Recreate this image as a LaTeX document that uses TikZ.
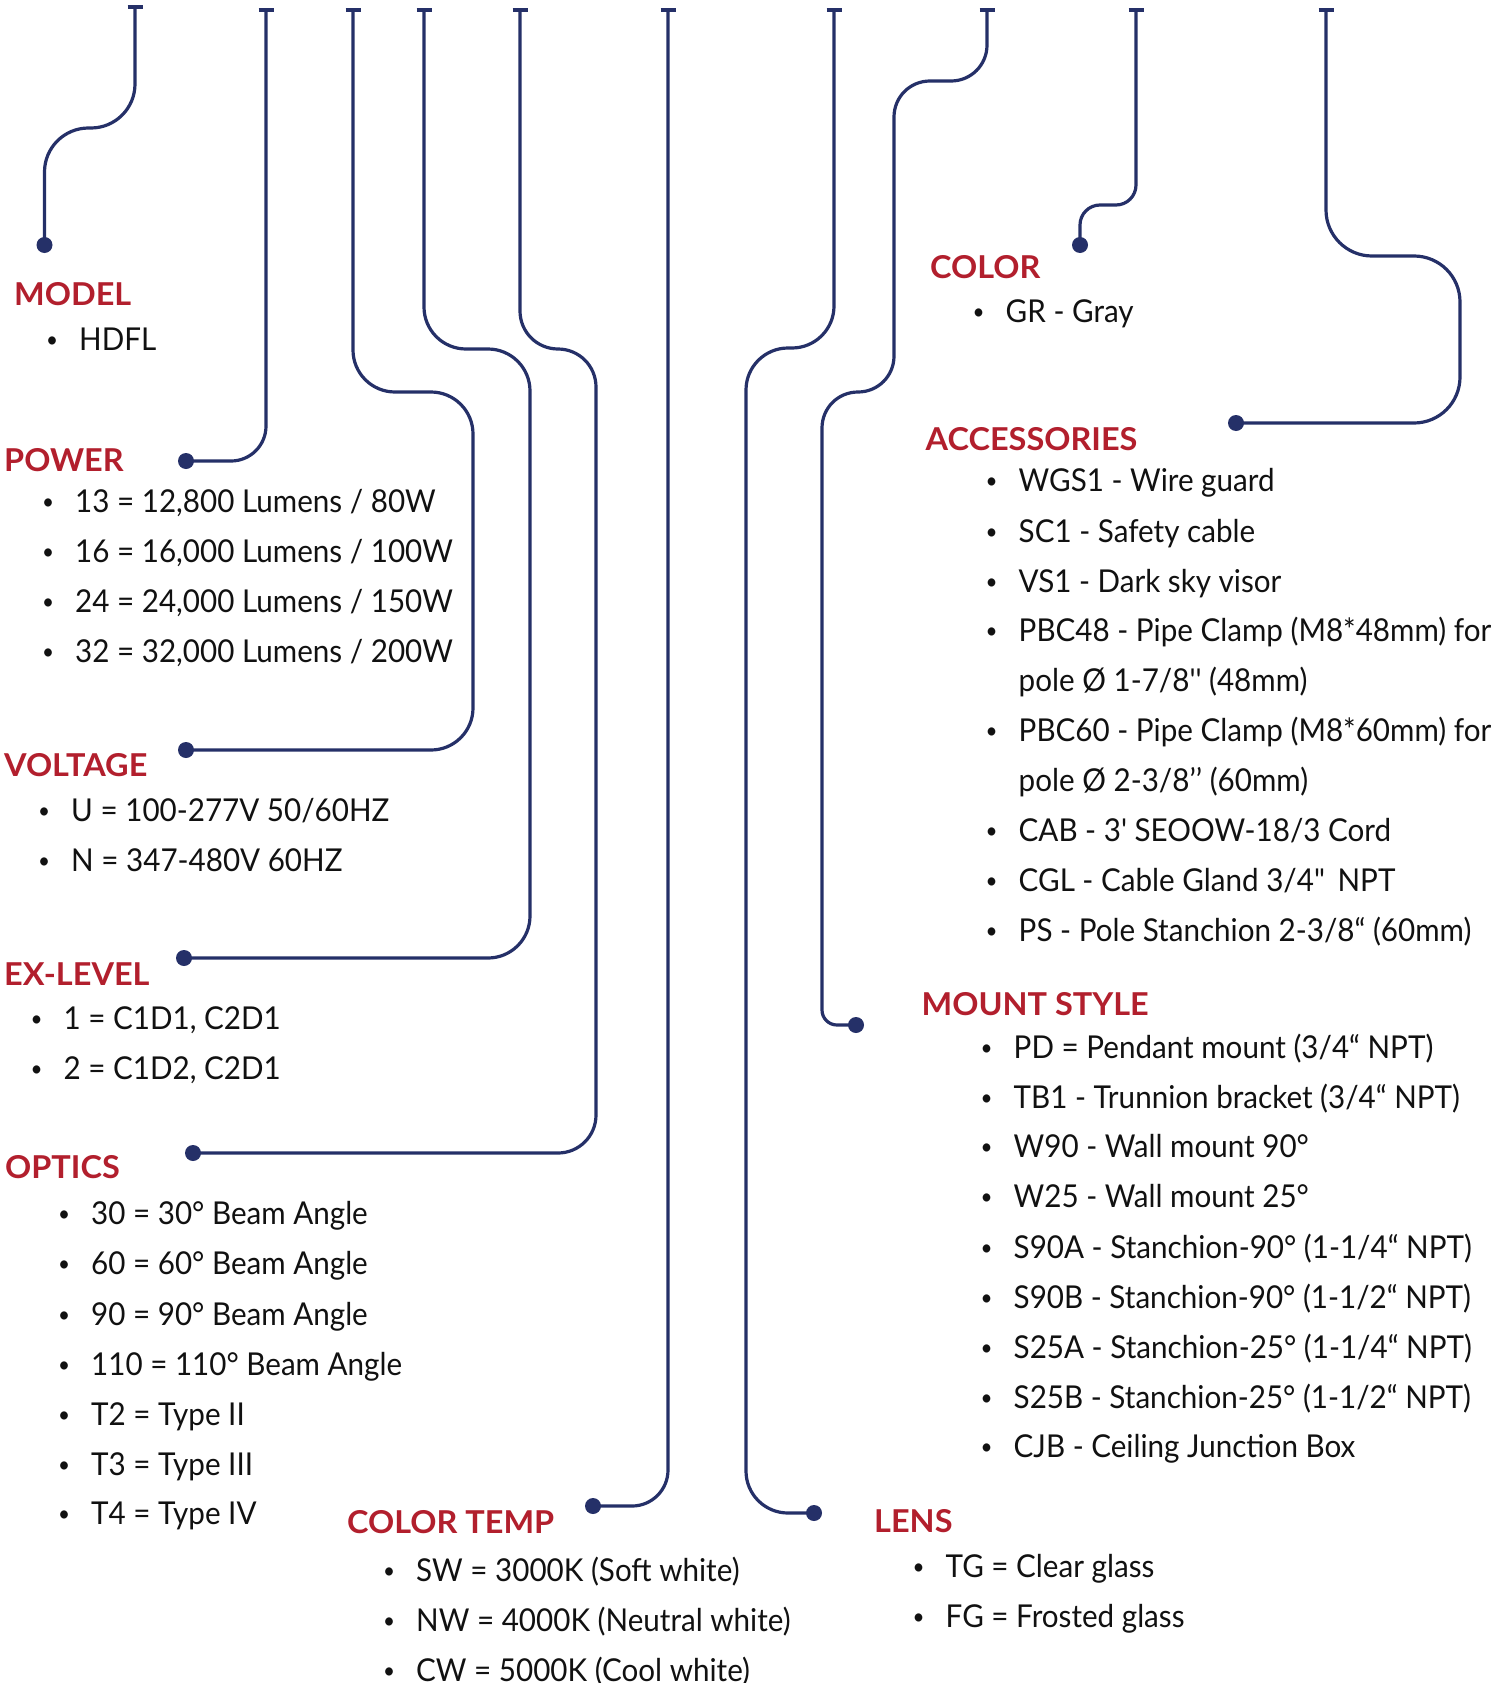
\documentclass[tikz,border=0pt]{standalone}
\usepackage{fontspec}
\newfontfamily\bodyfam{Lato}[Ligatures=TeXOff, FakeStretch=0.94]
\newfontfamily\headfam{Lato}[Ligatures=TeXOff, FakeStretch=1.03]
\definecolor{navy}{HTML}{253068}
\definecolor{headred}{HTML}{B21F2D}
\definecolor{ink}{HTML}{111111}
\newcommand\bfnt{\bodyfam\fontsize{31.5}{38}\selectfont}
\newcommand\hfnt{\headfam\bfseries\fontsize{31.5}{38}\selectfont}
\newcommand\bul{\llap{\makebox[54pt]{\raisebox{3pt}{\fontsize{22}{22}\selectfont •}}}}
\tikzset{
  conn/.style={draw=navy, line width=3.2pt},
  tickbar/.style={draw=navy, line width=4pt},
  enddot/.style={circle, fill=navy, inner sep=0pt, minimum size=16pt},
  head/.style={anchor=base west, inner sep=0pt, text=headred, font=\hfnt},
  itm/.style={anchor=base west, inner sep=0pt, text=ink, font=\bfnt},
}
\newcommand\bitem[3]{\node[itm] (#1) at (#2) {\bul #3};}
\newcommand\pitem[3]{\node[itm] (#1) at (#2) {#3};}
\begin{document}
\begin{tikzpicture}[x=1pt, y=-1pt]
\fill[white] (0,0) rectangle (1502,1683);
\useasboundingbox (0,0) rectangle (1502,1683);

% tick tops
\coordinate (t1) at (135,7);
\coordinate (t2) at (266,10);
\coordinate (t3) at (353,10);
\coordinate (t4) at (424,10);
\coordinate (t5) at (520,10);
\coordinate (t6) at (668,10);
\coordinate (t7) at (834,10);
\coordinate (t8) at (987,10);
\coordinate (t9) at (1136,10);
\coordinate (t10) at (1326,10);

% end dots
\node[enddot] (d1) at (44.5,245) {};
\node[enddot] (d2) at (186,461) {};
\node[enddot] (d3) at (186,750) {};
\node[enddot] (d4) at (184,958) {};
\node[enddot] (d5) at (193,1153) {};
\node[enddot] (d6) at (593,1506) {};
\node[enddot] (d7) at (814,1513) {};
\node[enddot] (d8) at (856,1025) {};
\node[enddot] (d9) at (1080,245) {};
\node[enddot] (d10) at (1236,423) {};

% connectors
\draw[conn, rounded corners=44pt] (t1) -- (135,128) -- (44.5,128) -- (d1.center);
\draw[conn, rounded corners=35pt] (t2) -- (266,461) -- (d2.center);
\draw[conn, rounded corners=42pt] (t3) -- (353,392) -- (473,392) -- (473,750) -- (d3.center);
\draw[conn, rounded corners=42pt] (t4) -- (424,349) -- (530,349) -- (530,958) -- (d4.center);
\draw[conn, rounded corners=38pt] (t5) -- (520,349) -- (596,349) -- (596,1153) -- (d5.center);
\draw[conn, rounded corners=36pt] (t6) -- (668,1506) -- (d6.center);
\draw[conn, rounded corners=42pt] (t7) -- (834,348) -- (746,348) -- (746,1513) -- (d7.center);
\draw[conn] (t8) -- (987,45) .. controls (987,65) and (971,81) .. (951,81)
  -- (930,81) .. controls (910,81) and (894,97) .. (894,117)
  -- (894,356) .. controls (894,376) and (878,392) .. (858,392)
  .. controls (838,392) and (822,408) .. (822,428)
  -- (822,1010) .. controls (822,1018.3) and (828.7,1025) .. (837,1025)
  -- (d8.center);
\draw[conn, rounded corners=20pt] (t9) -- (1136,205) -- (1080,205) -- (d9.center);
\draw[conn, rounded corners=46pt] (t10) -- (1326,256) -- (1460,256) -- (1460,423) -- (d10.center);

% tick bars
\foreach \t in {t1,t2,t3,t4,t5,t6,t7,t8,t9,t10}
  \draw[tickbar] ([xshift=-7.5pt]\t) -- ([xshift=7.5pt]\t);

% MODEL
\node[head] (hmodel) at (14,305) {MODEL};
\bitem{m1}{79,350}{HDFL}
% POWER
\node[head] (hpower) at (4,471) {POWER};
\bitem{p1}{75,512}{13 = 12,800 Lumens / 80W}
\bitem{p2}{75,562}{16 = 16,000 Lumens / 100W}
\bitem{p3}{75,612}{24 = 24,000 Lumens / 150W}
\bitem{p4}{75,662}{32 = 32,000 Lumens / 200W}
% VOLTAGE
\node[head] (hvolt) at (4,776) {VOLTAGE};
\bitem{v1}{71,821}{U = 100-277V 50/60HZ}
\bitem{v2}{71,871}{N = 347-480V 60HZ}
% EX-LEVEL
\node[head] (hex) at (4,985) {EX-LEVEL};
\bitem{e1}{63.5,1029.5}{1 = C1D1, C2D1}
\bitem{e2}{63.5,1079.5}{2 = C1D2, C2D1}
% OPTICS
\node[head] (hopt) at (5,1178) {OPTICS};
\bitem{o1}{91,1224.5}{30 = 30° Beam Angle}
\bitem{o2}{91,1274.7}{60 = 60° Beam Angle}
\bitem{o3}{91,1325}{90 = 90° Beam Angle}
\bitem{o4}{91,1375}{110 = 110° Beam Angle}
\bitem{o5}{91,1425}{T2 = Type II}
\bitem{o6}{91,1475.5}{T3 = Type III}
\bitem{o7}{91,1524}{T4 = Type IV}
% COLOR TEMP
\node[head] (hct) at (347,1533) {COLOR TEMP};
\bitem{c1}{416,1581}{SW = 3000K (Soft white)}
\bitem{c2}{416,1631.5}{NW = 4000K (Neutral white)}
\bitem{c3}{416,1681}{CW = 5000K (Cool white)}
% COLOR
\node[head] (hcol) at (930,278) {COLOR};
\bitem{g1}{1005.5,322}{GR - Gray}
% ACCESSORIES
\node[head] (hacc) at (925.5,450) {ACCESSORIES};
\bitem{a1}{1018.5,491.5}{WGS1 - Wire guard}
\bitem{a2}{1018.5,542}{SC1 - Safety cable}
\bitem{a3}{1018.5,592}{VS1 - Dark sky visor}
\bitem{a4}{1018.5,641}{PBC48 - Pipe Clamp (M8*48mm) for}
\pitem{a4b}{1018.5,691}{pole Ø 1-7/8'' (48mm)}
\bitem{a5}{1018.5,741.5}{PBC60 - Pipe Clamp (M8*60mm) for}
\pitem{a5b}{1018.5,791.5}{pole Ø 2-3/8’’ (60mm)}
\bitem{a6}{1018.5,841}{CAB - 3' SEOOW-18/3 Cord}
\bitem{a7}{1018.5,891}{CGL - Cable Gland 3/4"\hspace{5pt} NPT}
\bitem{a8}{1018.5,941.5}{PS - Pole Stanchion 2-3/8“ (60mm)}
% MOUNT STYLE
\node[head] (hmnt) at (921.5,1015) {MOUNT STYLE};
\bitem{s1}{1013.5,1058.5}{PD = Pendant mount (3/4“ NPT)}
\bitem{s2}{1013.5,1108}{TB1 - Trunnion bracket (3/4“ NPT)}
\bitem{s3}{1013.5,1157.6}{W90 - Wall mount 90°}
\bitem{s4}{1013.5,1207.8}{W25 - Wall mount 25°}
\bitem{s5}{1013.5,1258}{S90A - Stanchion-90° (1-1/4“ NPT)}
\bitem{s6}{1013.5,1308}{S90B - Stanchion-90° (1-1/2“ NPT)}
\bitem{s7}{1013.5,1358}{S25A - Stanchion-25° (1-1/4“ NPT)}
\bitem{s8}{1013.5,1408.6}{S25B - Stanchion-25° (1-1/2“ NPT)}
\bitem{s9}{1013.5,1457.6}{CJB - Ceiling Junction Box}
% LENS
\node[head] (hlens) at (874,1532) {LENS};
\bitem{l1}{945.5,1577}{TG = Clear glass}
\bitem{l2}{945.5,1627}{FG = Frosted glass}
\end{tikzpicture}
\end{document}
